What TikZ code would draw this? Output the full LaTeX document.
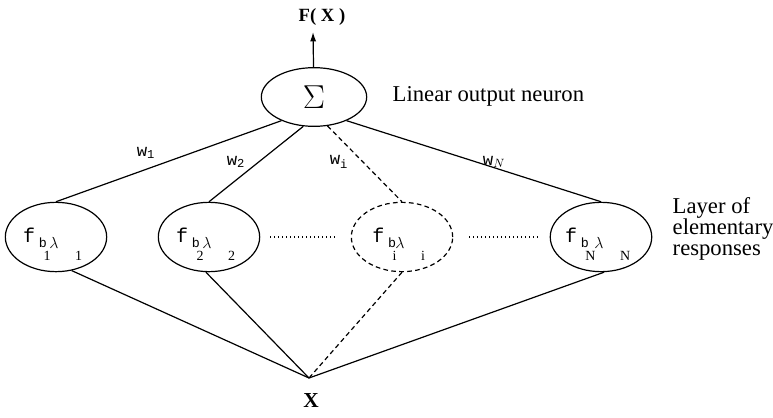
\documentclass[tikz,border=0pt]{standalone}
\usepackage{fontspec}
\setmainfont{Liberation Serif}
\setmonofont{Liberation Mono}
\usetikzlibrary{positioning,arrows.meta,shapes.geometric}
\newcommand{\flab}[1]{\rule{0pt}{21pt}{\fontsize{15}{15}\selectfont\texttt{f}}\kern2.8pt%
  \raisebox{-3.75pt}{\fontsize{10}{10}\selectfont\texttt{b}}\kern-2.6pt%
  \raisebox{-13.5pt}{\fontsize{10.5}{10}\selectfont #1}\kern-0.9pt%
  \raisebox{-4.5pt}{\fontsize{12.5}{12}\selectfont$\lambda$}\kern12.5pt%
  \raisebox{-13.5pt}{\fontsize{10.5}{10}\selectfont #1}\kern5pt}
\tikzset{
  unit/.style={draw,ellipse,line width=0.9pt,minimum width=76pt,minimum height=52pt,inner sep=0pt},
  unitd/.style={unit,dash pattern=on 3.5pt off 2.5pt},
  sumn/.style={draw,ellipse,line width=0.9pt,minimum width=79pt,minimum height=44pt,inner sep=0pt,font=\fontsize{26}{28}\selectfont},
  lnk/.style={line width=0.9pt},
  lnkd/.style={lnk,dash pattern=on 3.5pt off 2.5pt},
  dotl/.style={line width=0.9pt,dash pattern=on 0.9pt off 2.1pt},
  wlab/.style={font=\fontsize{13}{14}\selectfont},
  lab/.style={font=\fontsize{17}{16}\selectfont,align=left},
  blab/.style={font=\bfseries\fontsize{14}{16}\selectfont},
  arr/.style={-{Latex[length=7pt,width=4.5pt]},line width=0.9pt},
}
\begin{document}
\begin{tikzpicture}[x=0.75pt,y=-0.75pt]
\useasboundingbox (0,0) rectangle (773,417);
\node[sumn] (sum) at (314,97) {$\Sigma$};
\node[unit] (f1) at (56,237) {\flab{1}};
\node[unit] (f2) at (209,237) {\flab{2}};
\node[unitd] (fi) at (402,237) {\flab{i}};
\node[unit] (fN) at (601,237) {\flab{N}};
\coordinate (xpt) at (309,378);
\coordinate (tip) at (313,32);
\node[blab] (fx) at (322,17) {F( X )};
\node[blab,font=\bfseries\fontsize{16}{18}\selectfont] (x) at (311,401) {X};
\node[lab,anchor=west] (lout) at (388,96) {Linear output neuron};
\node[lab,anchor=west] (llay) at (668,229) {Layer of\\elementary\\responses};
\draw[arr] (sum) -- (tip);
\draw[lnk] (sum.-144) -- (f1.north);
\draw[lnk] (sum.-110) -- (f2.north);
\draw[lnkd] (sum.-65) -- (fi.north);
\draw[lnk] (sum.-36) -- (fN.north);
\draw[lnk] (f1.-65) -- (xpt);
\draw[lnk] (f2.-95) -- (xpt);
\draw[lnkd] (fi.south) -- (xpt);
\draw[lnk] (fN.-85) -- (xpt);
\draw[dotl,shorten <=7.5pt,shorten >=10.5pt] (f2) -- (fi);
\draw[dotl,shorten <=12pt,shorten >=9pt] (fi) -- (fN);
\node[wlab] (w1) at (146,153) {$\mathtt{w}_{\mathtt{1}}$};
\node[wlab] (w2) at (236,162) {$\mathtt{w}_{\mathtt{2}}$};
\node[wlab] (wi) at (339,162) {$\mathtt{w}_{\mathtt{i}}$};
\node[wlab] (wN) at (494,162) {$\mathtt{w}_{N}$};
\end{tikzpicture}
\end{document}
